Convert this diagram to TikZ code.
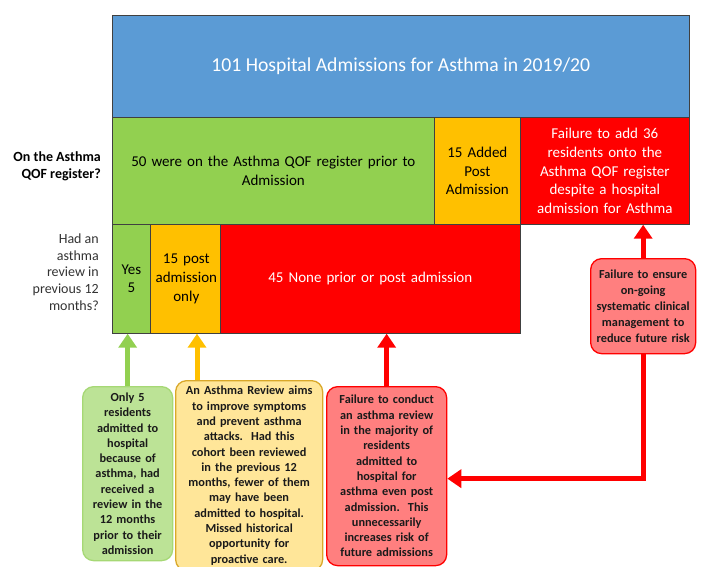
\documentclass[tikz,border=0pt]{standalone}
\usepackage{fontspec}
\setmainfont{Carlito}
\usetikzlibrary{arrows.meta}
\definecolor{cblue}{HTML}{5B9BD5}
\definecolor{cgreen}{HTML}{92D050}
\definecolor{corange}{HTML}{FFC000}
\definecolor{cred}{HTML}{FF0000}
\definecolor{lgreen}{HTML}{BCE396}
\definecolor{bgreen}{HTML}{A6D875}
\definecolor{lorange}{HTML}{FFE699}
\definecolor{borange}{HTML}{D9A82A}
\definecolor{lred}{HTML}{FF7F7F}
\definecolor{txt}{HTML}{1A1A1A}
\tikzset{
  cell/.style={draw=black!75, line width=0.7pt, rectangle, anchor=north west, inner sep=2pt,
    align=center, font=\fontsize{15}{18.6}\selectfont},
  note/.style={rectangle, rounded corners=11pt, line width=1.3pt, anchor=north west, inner sep=1pt,
    align=center, text=txt, font=\bfseries\fontsize{12.3}{15.3}\selectfont},
  conn/.style={line width=5pt, -{Triangle[length=14pt,width=18pt]}},
}
\begin{document}
\begin{tikzpicture}[x=1pt,y=-1pt]
\clip (0,0) rectangle (701,567);
\useasboundingbox (0,0) rectangle (701,567);
% top row
\node[cell, fill=cblue, text=white, minimum width=577pt, minimum height=102pt,
  font=\fontsize{19.7}{22}\selectfont] (title) at (112,15) {101 Hospital Admissions for Asthma in 2019/20};
% second row
\node[cell, fill=cgreen, minimum width=322pt, minimum height=107pt, text width=310pt] (reg) at (112,117)
  {50 were on the Asthma QOF register prior to\\Admission};
\node[cell, fill=corange, minimum width=86pt, minimum height=107pt, text width=82pt] (added) at (434,117)
  {15 Added\\Post\\Admission};
\node[cell, fill=cred, text=white, minimum width=169pt, minimum height=107pt, text width=165pt] (fail) at (520,117)
  {Failure to add 36\\residents onto the\\Asthma QOF register\\despite a hospital\\admission for Asthma};
% third row
\node[cell, fill=cgreen, minimum width=38pt, minimum height=109pt, text width=34pt] (yes) at (112,224)
  {Yes\\5};
\node[cell, fill=corange, minimum width=70pt, minimum height=109pt, text width=68pt] (post) at (150,224)
  {15 post\\admission\\only};
\node[cell, fill=cred, text=white, minimum width=300pt, minimum height=109pt, text width=290pt] (none) at (220,224)
  {45 None prior or post admission};
% left labels
\node[anchor=east, align=right, inner sep=0pt, font=\bfseries\fontsize{14}{17}\selectfont] (qlab) at (101,166)
  {On the Asthma\\QOF register?};
\node[anchor=east, align=right, inner sep=0pt, text=black!80, font=\fontsize{14}{16.7}\selectfont] (hlab) at (99,272)
  {Had an\\asthma\\review in\\previous 12\\months?};
% notes
\node[note, draw=bgreen, fill=lgreen, minimum width=88pt, minimum height=174pt, text width=88pt] (gbox) at (82,386)
  {Only 5\\residents\\admitted to\\hospital\\because of\\asthma, had\\received a\\review in the\\12 months\\prior to their\\admission};
\node[note, draw=borange, fill=lorange, minimum width=147pt, minimum height=190pt, text width=145pt] (obox) at (175,380)
  {An Asthma Review aims\\to improve symptoms\\and prevent asthma\\attacks.\ \ Had this\\cohort been reviewed\\in the previous 12\\months, fewer of them\\may have been\\admitted to hospital.\\Missed historical\\opportunity for\\proactive care.};
\node[note, draw=cred, fill=lred, minimum width=118pt, minimum height=179pt, text width=118pt] (rbox) at (326,386)
  {Failure to conduct\\an asthma review\\in the majority of\\residents\\admitted to\\hospital for\\asthma even post\\admission.\ \ This\\unnecessarily\\increases risk of\\future admissions};
\node[note, draw=cred, fill=lred, minimum width=103pt, minimum height=95pt, text width=103pt,
  font=\bfseries\fontsize{12.3}{15.8}\selectfont] (mbox) at (590,258)
  {Failure to ensure\\on-going\\systematic clinical\\management to\\reduce future risk};
% connectors
\draw[conn, cgreen] (gbox.north) -- (gbox.north |- yes.south);
\draw[conn, corange] ([xshift=22pt]obox.north west) -- ([xshift=22pt]obox.north west |- post.south);
\draw[conn, cred] (rbox.north) -- (rbox.north |- none.south);
\draw[conn, cred] (mbox.north) -- (mbox.north |- fail.south);
\draw[conn, cred, line join=miter] (mbox.south) |- ([yshift=-2.5pt]rbox.east);
\end{tikzpicture}
\end{document}
